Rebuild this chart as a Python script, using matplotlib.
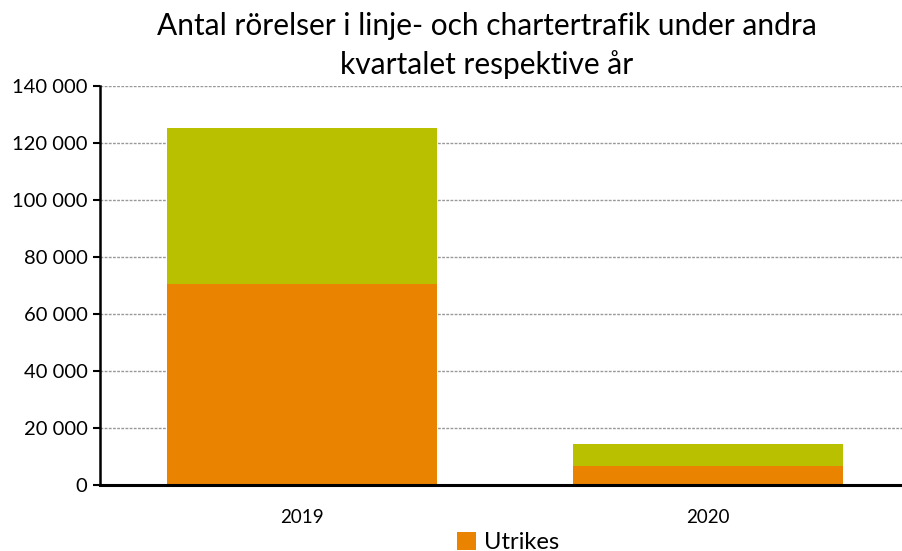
import matplotlib.pyplot as plt
import numpy as np

# data
years = ["2019", "2020"]
utrikes = [70400, 6800]
inrikes = [54800, 7600]
y_ticks = [0, 20000, 40000, 60000, 80000, 100000, 120000, 140000]
y_tick_labels = ["0", "20 000", "40 000", "60 000", "80 000", "100 000", "120 000", "140 000"]

plt.rcParams["font.family"] = ["Lato", "DejaVu Sans"]

fig = plt.figure(figsize=(9.02, 5.51), dpi=100)
# plot area runs past the right edge in the original
ax = fig.add_axes([100 / 902, 66 / 551, 802 / 902, 399 / 551])

x = np.arange(len(years))
width = 0.665
ax.bar(x, utrikes, width, color="#E98300", label="Utrikes", zorder=3)
ax.bar(x, inrikes, width, bottom=utrikes, color="#B8C000", label="Inrikes", zorder=3)

ax.set_xlim(-0.4975, 1.478)
ax.set_ylim(0, 140000)
ax.set_yticks(y_ticks)
ax.set_yticklabels(y_tick_labels, fontsize=14.5)
ax.set_xticks(x)
ax.set_xticklabels(years, fontsize=13.5)
ax.tick_params(axis="x", length=0, pad=17)
ax.tick_params(axis="y", direction="out", length=5, width=1.5, pad=4)

ax.grid(axis="y", color="#999999", linestyle=(0, (2, 1)), linewidth=1, zorder=0)
for side in ["top", "right"]:
    ax.spines[side].set_visible(False)
ax.spines["left"].set_linewidth(1.8)
ax.spines["bottom"].set_linewidth(2.2)
ax.spines["left"].set_zorder(4)
ax.spines["bottom"].set_zorder(4)

fig.text(0.54, 0.917, "Antal rörelser i linje- och chartertrafik under andra\nkvartalet respektive år",
         ha="center", va="center", fontsize=21.5, linespacing=1.4)

handles, labels = ax.get_legend_handles_labels()
fig.legend(handles[:1], labels[:1], loc="center", bbox_to_anchor=(0.563, 0.016),
           frameon=False, fontsize=17, handlelength=0.8, handleheight=0.8,
           handletextpad=0.35, borderpad=0)

fig.savefig("out.png", dpi=100)
